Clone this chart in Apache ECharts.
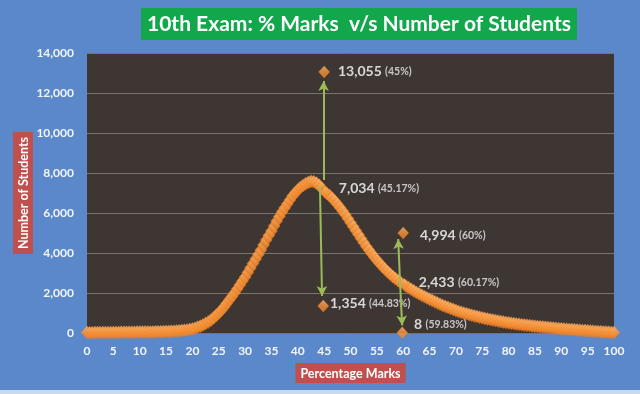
<!DOCTYPE html>
<html><head><meta charset="utf-8">
<script src="https://cdn.jsdelivr.net/npm/echarts@6/dist/echarts.min.js"></script>
<style>html,body{margin:0;padding:0;background:#5B88CB;}#c{width:640px;height:394px;}</style>
</head><body><div id="c"></div>
<script>
// ---------- data ----------
const titleText = '10th Exam: % Marks  v/s Number of Students';
const xAxisTitle = 'Percentage Marks';
const yAxisTitle = 'Number of Students';
const xTicks = [0,5,10,15,20,25,30,35,40,45,50,55,60,65,70,75,80,85,90,95,100];
const yTicks = [0,2000,4000,6000,8000,10000,12000,14000];

// main curve: students per percentage, read every 0.5 % (null where the spike points sit)
const percentStart = 0;
const percentStep = 0.5;
const studentCounts = [
  20,15,15,20,20,25,20,25,25,30,            // 0 - 4.5
  30,30,30,35,35,35,40,40,40,45,            // 5 - 9.5
  45,45,50,50,55,55,60,60,65,70,            // 10 - 14.5
  75,80,85,90,100,110,120,135,150,175,      // 15 - 19.5
  200,240,290,340,400,470,550,640,750,870,  // 20 - 24.5
  1000,1140,1300,1470,1650,1820,2000,2200,2400,2600, // 25 - 29.5
  2800,3020,3250,3480,3700,3920,4150,4400,4650,4880, // 30 - 34.5
  5100,5350,5600,5830,6050,6250,6450,6650,6850,7000, // 35 - 39.5
  7150,7280,7380,7460,7530,7580,7560,7500,7400,7250, // 40 - 44.5
  null,6980,6880,6740,6600,6440,6280,6100,5920,5720, // 45 - 49.5
  5520,5320,5120,4920,4720,4520,4330,4150,3970,3800, // 50 - 54.5
  3640,3490,3340,3200,3070,2950,2830,2720,2620,2530, // 55 - 59.5
  null,2350,2270,2190,2110,2030,1960,1890,1820,1750, // 60 - 64.5
  1690,1620,1560,1500,1440,1380,1330,1280,1230,1180, // 65 - 69.5
  1130,1080,1040,1000,960,920,890,850,820,790,       // 70 - 74.5
  760,730,700,675,650,625,600,575,555,530,           // 75 - 79.5
  510,490,470,450,435,415,400,385,370,355,           // 80 - 84.5
  340,325,310,300,285,270,260,245,235,220,           // 85 - 89.5
  210,200,190,180,170,160,150,140,130,120,           // 90 - 94.5
  110,100,90,80,70,60,55,45,40,30,                   // 95 - 99.5
  25                                                 // 100
];

// highlighted (annotated) points
const highlightPercent = [45, 44.83, 45.17, 60, 59.83, 60.17];
const highlightCount   = [13055, 1354, 7034, 4994, 8, 2433];

// arrows: from (percent, count) to (percent, count)
const arrowFromX = [44.85, 44.2, 59.4, 59.4];
const arrowFromY = [7650, 7350, 2550, 2550];
const arrowToX   = [44.9, 44.6, 59.05, 59.8];
const arrowToY   = [12600, 1850, 4700, 380];

// ---------- styles ----------
const labelPlacement = [
  {distance: 8, offset: [0, 0]},
  {distance: 1, offset: [0, -2]},
  {distance: 8, offset: [0, -4]},
  {distance: 11, offset: [0, 2]},
  {distance: 6, offset: [0, -8]},
  {distance: 9, offset: [0, -2]}
];
const FONT = 'Lato, "Open Sans", sans-serif';
const markerFill = new echarts.graphic.LinearGradient(0, 0, 0, 1, [
  {offset: 0, color: '#FFC27E'}, {offset: 0.45, color: '#F99840'}, {offset: 1, color: '#EC8128'}
]);

const mainData = [];
studentCounts.forEach((v, i) => { if (v !== null) mainData.push([percentStart + i * percentStep, v]); });

const fmt = n => n.toLocaleString('en-US');
const hlData = highlightPercent.map((p, i) => ({
  value: [p, highlightCount[i]],
  label: {
    show: true, position: 'right',
    distance: labelPlacement[i].distance, offset: labelPlacement[i].offset,
    formatter: `{n|${fmt(highlightCount[i])}} {p|(${p}%)}`
  }
}));

const chart = echarts.init(document.getElementById('c'), null, {renderer: 'canvas'});
chart.setOption({
  backgroundColor: '#5B88CB',
  animation: false,
  title: {
    text: titleText, left: 141, top: 8,
    backgroundColor: '#12A74A', padding: [4, 6, 4, 6],
    textStyle: {color: '#FFFFFF', fontFamily: FONT, fontWeight: 'bold', fontSize: 21, lineHeight: 24}
  },
  grid: {left: 87, right: 26, top: 53, bottom: 61, show: true, backgroundColor: '#3E3632', borderWidth: 0,
    outerBoundsMode: 'none', containLabel: false},
  xAxis: {
    type: 'value', min: xTicks[0], max: xTicks[xTicks.length - 1], interval: xTicks[1] - xTicks[0],
    axisLine: {show: false}, axisTick: {show: false}, splitLine: {show: false},
    axisLabel: {color: '#F2F5FB', fontFamily: FONT, fontWeight: 'bold', fontSize: 12, margin: 12},
    name: xAxisTitle, nameLocation: 'middle', nameGap: 30,
    nameTextStyle: {color: '#FFFFFF', fontFamily: FONT, fontWeight: 'bold', fontSize: 12.5,
      backgroundColor: '#C0504D', padding: [4, 5, 3, 5]}
  },
  yAxis: {
    type: 'value', min: yTicks[0], max: yTicks[yTicks.length - 1], interval: yTicks[1] - yTicks[0],
    axisLine: {show: false}, axisTick: {show: false},
    splitLine: {lineStyle: {color: '#7A736D', width: 1}},
    axisLabel: {color: '#F2F5FB', fontFamily: FONT, fontWeight: 'bold', fontSize: 12, margin: 13,
      formatter: v => fmt(v)},
    name: yAxisTitle, nameLocation: 'middle', nameGap: 54, nameRotate: 90, nameMoveOverlap: false,
    nameTextStyle: {color: '#FFFFFF', fontFamily: FONT, fontWeight: 'bold', fontSize: 12.5,
      backgroundColor: '#C0504D', padding: [4, 5, 3, 5]}
  },
  series: [
    {
      type: 'scatter', name: 'Students', data: mainData, clip: false,
      symbol: 'diamond', symbolSize: [12, 13],
      itemStyle: {color: markerFill, borderColor: '#E27824', borderWidth: 0.5},
      z: 3
    },
    {
      type: 'scatter', name: 'Highlights', data: hlData, clip: false,
      symbol: 'diamond', symbolSize: [11, 12],
      itemStyle: {color: markerFill, borderColor: '#E27824', borderWidth: 0.5},
      label: {
        rich: {
          n: {color: '#FFFFFF', fontFamily: FONT, fontWeight: 'bold', fontSize: 14},
          p: {color: '#E8E8E8', fontFamily: FONT, fontWeight: 'bold', fontSize: 10.5}
        }
      },
      markLine: {
        silent: true, symbol: ['none', 'arrow'], symbolSize: [8, 10], precision: 4,
        lineStyle: {color: '#9BBB59', width: 2, type: 'solid'},
        label: {show: false},
        data: arrowFromX.map((x, i) => [{coord: [x, arrowFromY[i]]}, {coord: [arrowToX[i], arrowToY[i]]}])
      },
      z: 4
    }
  ],
  graphic: [{type: 'rect', left: 0, top: 390, shape: {width: 640, height: 4}, style: {fill: '#CBD8EE'}, silent: true}]
});
</script></body></html>
